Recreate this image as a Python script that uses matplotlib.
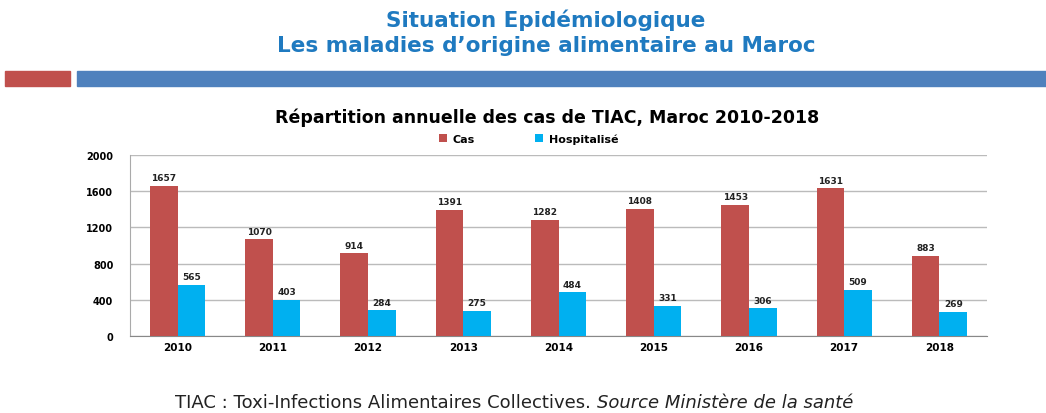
import numpy as np
import matplotlib.pyplot as plt
from matplotlib.patches import Rectangle

# Données (cas de TIAC, Maroc 2010-2018)
annees = ['2010', '2011', '2012', '2013', '2014', '2015', '2016', '2017', '2018']
cas = [1657, 1070, 914, 1391, 1282, 1408, 1453, 1631, 883]
hospitalise = [565, 403, 284, 275, 484, 331, 306, 509, 269]
yticks = [0, 400, 800, 1200, 1600, 2000]

rouge = '#c0504d'
cyan = '#00b0f0'
bleu_titre = '#1f7ac0'

fig = plt.figure(figsize=(10.46, 4.14), dpi=100)

# En-tete de la diapo
fig.text(0.522, 0.950, 'Situation Epidémiologique', ha='center', va='center',
         fontsize=15.5, fontweight='bold', color=bleu_titre)
fig.text(0.522, 0.888, 'Les maladies d\u2019origine alimentaire au Maroc', ha='center',
         va='center', fontsize=15.5, fontweight='bold', color=bleu_titre)
fig.patches.append(Rectangle((5 / 1046, 1 - 87 / 414), 65 / 1046, 15 / 414,
                             transform=fig.transFigure, color=rouge, zorder=0))
fig.patches.append(Rectangle((77 / 1046, 1 - 87 / 414), 969 / 1046, 15 / 414,
                             transform=fig.transFigure, color='#4f81bd', zorder=0))

# Graphique
ax = fig.add_axes([130 / 1046, 1 - 337 / 414, 857 / 1046, 181 / 414])
x = np.arange(len(annees))
w = 0.29
b1 = ax.bar(x - w / 2, cas, w, color=rouge, label='Cas', zorder=3)
b2 = ax.bar(x + w / 2, hospitalise, w, color=cyan, label='Hospitalisé', zorder=3)
for bars in (b1, b2):
    for r in bars:
        ax.text(r.get_x() + r.get_width() / 2, r.get_height() + 40, str(int(r.get_height())),
                ha='center', va='bottom', fontsize=6.5, fontweight='bold', color='#222222')

ax.set_xlim(-0.5, len(annees) - 0.5)
ax.set_ylim(0, 2000)
ax.set_yticks(yticks)
ax.set_yticklabels([str(v) for v in yticks], fontsize=7, fontweight='bold')
ax.set_xticks(x)
ax.set_xticklabels(annees, fontsize=7.5, fontweight='bold')
ax.tick_params(axis='x', length=0, pad=4)
ax.tick_params(axis='y', length=0, pad=12)
ax.yaxis.grid(True, color='#bbbbbb', linewidth=1, zorder=0)
for s in ['top', 'right']:
    ax.spines[s].set_visible(False)
ax.spines['left'].set_color('#aaaaaa')
ax.spines['bottom'].set_color('#888888')

ax.text(0.487, 1 + 38 / 181, 'Répartition annuelle des cas de TIAC, Maroc 2010-2018',
        transform=ax.transAxes, ha='center', va='center', fontsize=12.5, fontweight='bold')
ax.legend(loc='center', bbox_to_anchor=(0.465, 1 + 16 / 181), ncol=2, frameon=False,
          handlelength=0.7, handleheight=0.7, columnspacing=5.5, handletextpad=0.5,
          prop={'weight': 'bold', 'size': 8})

# Note de bas de page (partie normale + partie en italique)
t1 = fig.text(175 / 1046, 0.004, 'TIAC : Toxi-Infections Alimentaires Collectives. ',
              ha='left', va='bottom', fontsize=13, color='#222222')
fig.canvas.draw()
bb = t1.get_window_extent(renderer=fig.canvas.get_renderer())
fig.text(bb.x1 / fig.bbox.width, 0.004, 'Source Ministère de la santé', ha='left',
         va='bottom', fontsize=13, style='italic', color='#222222')

fig.savefig('out.png', dpi=100)
